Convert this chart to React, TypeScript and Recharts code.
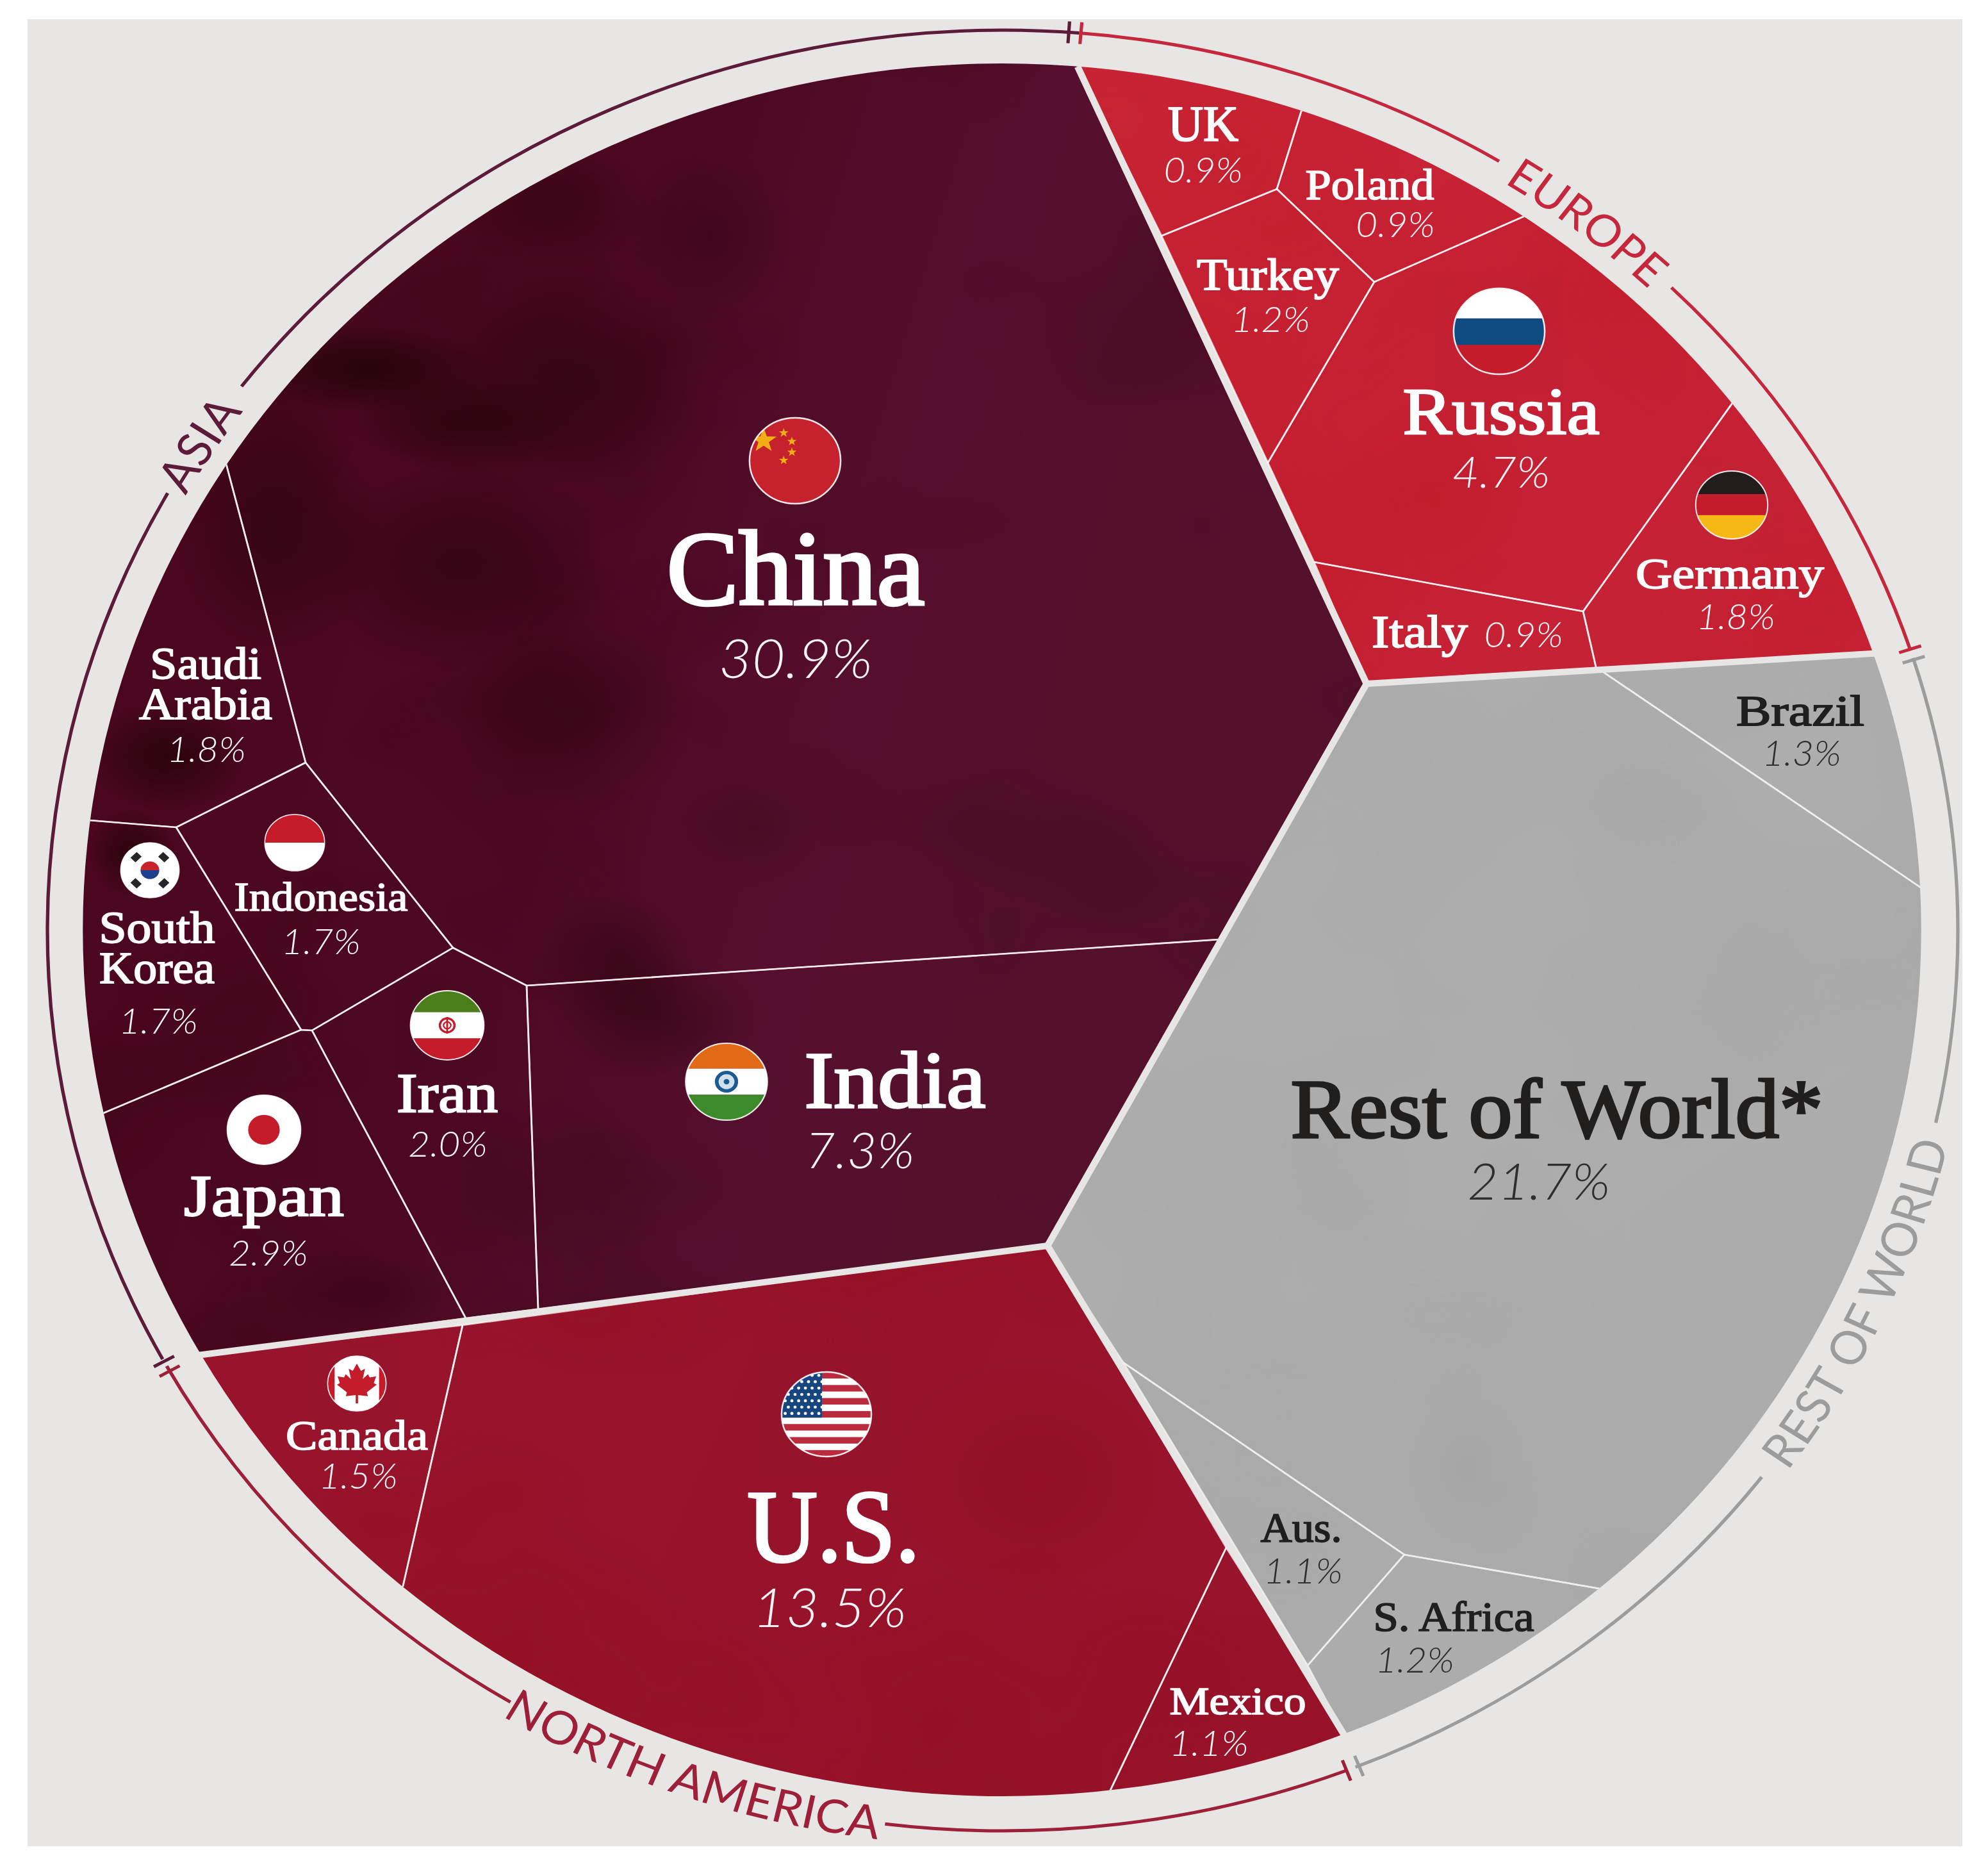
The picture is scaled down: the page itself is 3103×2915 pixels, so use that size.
import { Cell, Pie, PieChart, Scatter, ScatterChart, XAxis, YAxis } from 'recharts';

// the reference is stretched sideways, so the whole drawing is scaled by this
const STRETCH = 1.0612;
const MAP_W = 3103;
const MAP_H = 2915;
const W = MAP_W / STRETCH;
const H = MAP_H;
const DISC_X = 1564;
const DISC_Y = 1451;
const DISC_R = 1352;
const RING_CX = 1565 / STRETCH;
const RING_CY = 1452;
const RING_R = 1405;

type Pt = [number, number];

// cell outlines overshoot the rim and get clipped by the disc
const far = (p: Pt): Pt => [DISC_X + (p[0] - DISC_X) * 1.25, DISC_Y + (p[1] - DISC_Y) * 1.25];

const A: Pt = [1682, 104];
const E: Pt = [2133, 1067];
const F: Pt = [1635, 1944];

const cellNames = [
  'China', 'India', 'Japan', 'Iran', 'South Korea', 'Indonesia', 'Saudi Arabia',
  'U.S.', 'Canada', 'Mexico',
  'Russia', 'Germany', 'Turkey', 'UK', 'Poland', 'Italy',
  'Rest of World*', 'Brazil', 'S. Africa', 'Aus.',
];
const cellShares = [
  30.9, 7.3, 2.9, 2.0, 1.7, 1.7, 1.8,
  13.5, 1.5, 1.1,
  4.7, 1.8, 1.2, 0.9, 0.9, 0.9,
  21.7, 1.3, 1.2, 1.1,
];
const cellRegions = [
  'asia', 'asia', 'asia', 'asia', 'asia', 'asia', 'asia',
  'america', 'america', 'america',
  'europe', 'europe', 'europe', 'europe', 'europe', 'europe',
  'rest', 'rest', 'rest', 'rest',
];
const cellOutlines: Pt[][] = [
  [A, E, [1904, 1466], [822, 1538], [707, 1479], [477, 1190], [353, 724], far([353, 724]), far(A)],
  [[822, 1538], [1904, 1466], F, [840, 2043]],
  [[159, 1738], [470, 1607], [487, 1608], [727, 2057], [311, 2114], far([311, 2114]), far([159, 1738])],
  [[707, 1479], [822, 1538], [840, 2043], [727, 2057], [487, 1608]],
  [[139, 1280], [275, 1291], [470, 1607], [159, 1738], far([159, 1738]), far([139, 1280])],
  [[477, 1190], [707, 1479], [487, 1608], [470, 1607], [275, 1291]],
  [[353, 724], [477, 1190], [275, 1291], [139, 1280], far([139, 1280]), far([353, 724])],
  [[722, 2068], F, [1914, 2415], [1732, 2796], far([1732, 2796]), far([629, 2475]), [629, 2475]],
  [[311, 2114], [722, 2068], [629, 2475], far([629, 2475]), far([311, 2114])],
  [[1914, 2415], [2098, 2706], far([2098, 2706]), far([1732, 2796]), [1732, 2796]],
  [[2145, 440], [2378, 338], far([2378, 338]), far([2704, 629]), [2704, 629], [2471, 954], [2051, 877], [1979, 722]],
  [[2704, 629], far([2704, 629]), far([2930, 1020]), [2930, 1020], [2492, 1045], [2471, 954]],
  [[1813, 368], [1993, 295], [2145, 440], [1979, 722]],
  [A, far(A), far([2031, 174]), [2031, 174], [1993, 295], [1813, 368]],
  [[2031, 174], far([2031, 174]), far([2378, 338]), [2378, 338], [2145, 440], [1993, 295]],
  [[2051, 877], [2471, 954], [2492, 1045], E],
  [E, [2497, 1045], [2998, 1385], far([2998, 1385]), far([2496, 2479]), [2496, 2479], [2192, 2426], [1753, 2126], F],
  [[2497, 1045], [2930, 1020], far([2930, 1020]), far([2998, 1385]), [2998, 1385]],
  [[2192, 2426], [2496, 2479], far([2496, 2479]), far([2098, 2706]), [2098, 2706], [2041, 2599]],
  [[1753, 2126], [2192, 2426], [2041, 2599]],
];
const mainDividers: Pt[][] = [
  [A, E],
  [E, [2938, 1019]],
  [E, F],
  [F, [300, 2116]],
  [F, [2102, 2714]],
];

// [x, baseline y, font size] in map units for the name and the share
const nameLayout: [number, number, number][] = [
  [1242, 943, 166], [1397, 1728, 126], [412, 1897, 92], [698, 1735, 87], [245, 1471, 69], [501, 1421, 64], [321, 1059, 69],
  [1301, 2436, 160], [557, 2262, 66], [1932, 2675, 62],
  [2343, 677, 104], [2700, 918, 68], [1979, 452, 69], [1878, 219, 78], [2138, 311, 67], [2216, 1010, 72],
  [2430, 1775, 132], [2810, 1132, 68], [2269, 2545, 66], [2031, 2406, 65],
];
// measured width of each printed line of a name
const nameWidths: number[][] = [
  [403], [283], [250], [158], [181, 180], [271], [174, 208],
  [269], [222], [213],
  [307], [294], [222], [110], [201], [150],
  [831], [200], [251], [127],
];
const shareLayout: [number, number, number][] = [
  [1242, 1058, 84], [1342, 1823, 76], [419, 1975, 55], [699, 1805, 55], [247, 1613, 55], [501, 1489, 55], [322, 1189, 55],
  [1295, 2539, 84], [559, 2323, 55], [1887, 2740, 55],
  [2343, 761, 68], [2709, 982, 55], [1983, 518, 55], [1878, 285, 55], [2178, 370, 55], [2378, 1010, 55],
  [2402, 1872, 78], [2812, 1195, 55], [2208, 2610, 55], [2034, 2471, 55],
];
const flagCodes = ['cn', 'in', 'jp', 'ir', 'kr', 'id', 'ca', 'us', 'ru', 'de'];
const flagLayout: [number, number, number][] = [
  [1241, 719, 67], [1134, 1688, 60], [412, 1763, 54], [698, 1600, 54], [234, 1358, 43], [460, 1315, 44],
  [557, 2159, 43], [1290, 2207, 66], [2340, 517, 67], [2703, 788, 53],
];

// soft patches of the background texture: [x, y, rx, ry, strength, tone]
const smokePatches: [number, number, number, number, number, string][] = [
  [575, 575, 190, 70, 0.95, 'asia'],
  [720, 660, 170, 80, 0.7, 'asia'],
  [430, 830, 170, 200, 0.6, 'asia'],
  [720, 880, 240, 170, 0.55, 'asia'],
  [900, 590, 200, 170, 0.5, 'asia'],
  [860, 320, 150, 100, 0.45, 'asia'],
  [1110, 370, 130, 140, 0.3, 'asia'],
  [260, 1180, 130, 90, 0.85, 'asia'],
  [205, 1330, 70, 70, 0.85, 'asia'],
  [1030, 1590, 170, 100, 0.45, 'asia'],
  [970, 1500, 130, 110, 0.4, 'asia'],
  [900, 1120, 190, 150, 0.35, 'asia'],
  [1180, 1290, 140, 100, 0.25, 'asia'],
  [560, 2020, 160, 70, 0.3, 'asia'],
  [1000, 1850, 220, 100, 0.2, 'asia'],
  [1620, 2310, 230, 190, 0.5, 'america'],
  [2240, 780, 170, 170, 0.35, 'europe'],
  [2290, 2290, 130, 170, 0.2, 'rest'],
  [2590, 1260, 130, 90, 0.12, 'rest'],
  [2090, 1850, 120, 140, 0.1, 'rest'],
];

// ring arcs in degrees, clockwise from the Asia / Europe tick; null = gap for a label
const arcSpans = [26.67, 13.1, 27.4, 0.5, 29.9, 25, 30.9, 0.6, 28.1, 23.9, 30.0, 0.5, 57.4, 8.1, 57.33, 0];
const arcRegions = ['europe', null, 'europe', null, 'rest', null, 'rest', null, 'america', null, 'america', null, 'asia', null, 'asia', null];
const tickSpans = [0.2, 0.53, 0.2, 66.9, 0.2, 0.5, 0.2, 85.4, 0.2, 0.6, 0.2, 81.6, 0.2, 0.5, 0.2, 122.37];
const tickRegions = ['asia', null, 'europe', null, 'europe', null, 'rest', null, 'rest', null, 'america', null, 'america', null, 'asia', null];
const ARC_START = 4.6;
const TICK_START = 3.87;

const regionColor: Record<string, string> = {
  asia: '#5c1b38',
  europe: '#c5283c',
  america: '#9e1f38',
  rest: '#9c9c9c',
};
const regionFill: Record<string, string> = {
  asia: 'url(#fillAsia)',
  europe: 'url(#fillEurope)',
  america: 'url(#fillAmerica)',
  rest: 'url(#fillRest)',
};
const regionSmoke: Record<string, string> = {
  asia: 'url(#smokeAsia)',
  europe: 'url(#smokeEurope)',
  america: 'url(#smokeAmerica)',
  rest: 'url(#smokeRest)',
};

const regionLabels = [
  { id: 'europe', text: 'EUROPE', at: 37.9, up: true, size: 69 },
  { id: 'rest', text: 'REST OF WORLD', at: 114.8, up: false, size: 72 },
  { id: 'america', text: 'NORTH AMERICA', at: 199.2, up: false, size: 72 },
  { id: 'asia', text: 'ASIA', at: 302.7, up: true, size: 72 },
];

const SERIF = '"Liberation Serif", serif';
const SANS = 'Lato, "Open Sans", sans-serif';

const noPoint = () => <g />;

const toPoints = (outline: Pt[]) => outline.map(([x, y]) => ({ x, y }));

const polyPath = (points: { x: number; y: number }[]) => points.map((p) => `${p.x},${p.y}`).join(' ');

const CellFill = (region: string) => (props: any) => (
  <g clipPath="url(#disc)">
    <polygon points={polyPath(props.points)} fill={regionFill[region]} filter={regionSmoke[region]} />
  </g>
);

const CellEdge = (region: string) => (props: any) => (
  <g clipPath="url(#disc)">
    <polygon
      points={polyPath(props.points)}
      fill="none"
      stroke={region === 'rest' ? '#eeeeee' : '#ffffff'}
      strokeOpacity={region === 'rest' ? 0.9 : 0.72}
      strokeWidth={2.6}
    />
  </g>
);

const SmokePatch = (props: any) => {
  const { cx, cy, payload } = props;
  return (
    <ellipse
      cx={cx}
      cy={cy}
      rx={payload.rx / STRETCH}
      ry={payload.ry}
      fill={`url(#patch-${payload.tone})`}
      opacity={payload.strength}
      clipPath="url(#disc)"
    />
  );
};

const starPoints = (cx: number, cy: number, r: number) => {
  const pts: string[] = [];
  for (let i = 0; i < 10; i++) {
    const a = (Math.PI / 5) * i - Math.PI / 2;
    const d = i % 2 === 0 ? r : r * 0.4;
    pts.push(`${cx + d * Math.cos(a)},${cy + d * Math.sin(a)}`);
  }
  return pts.join(' ');
};

const RED = '#c41a2c';

const flagBody = (code: string) => {
  switch (code) {
    case 'cn':
      return (
        <>
          <rect x={-1} y={-1} width={2} height={2} fill="#c6202f" />
          <polygon points={starPoints(-0.69, -0.47, 0.3)} fill="#f2ae12" />
          <polygon points={starPoints(-0.25, -0.65, 0.11)} fill="#f2ae12" />
          <polygon points={starPoints(-0.07, -0.45, 0.11)} fill="#f2ae12" />
          <polygon points={starPoints(-0.07, -0.2, 0.11)} fill="#f2ae12" />
          <polygon points={starPoints(-0.25, -0.01, 0.11)} fill="#f2ae12" />
        </>
      );
    case 'ru':
      return (
        <>
          <rect x={-1} y={-1} width={2} height={0.7} fill="#ffffff" />
          <rect x={-1} y={-0.3} width={2} height={0.62} fill="#0f4c81" />
          <rect x={-1} y={0.32} width={2} height={0.7} fill={RED} />
        </>
      );
    case 'de':
      return (
        <>
          <rect x={-1} y={-1} width={2} height={0.68} fill="#211c1b" />
          <rect x={-1} y={-0.32} width={2} height={0.62} fill={RED} />
          <rect x={-1} y={0.3} width={2} height={0.72} fill="#f6b816" />
        </>
      );
    case 'id':
      return (
        <>
          <rect x={-1} y={-1} width={2} height={1} fill={RED} />
          <rect x={-1} y={0} width={2} height={1} fill="#ffffff" />
        </>
      );
    case 'jp':
      return (
        <>
          <rect x={-1} y={-1} width={2} height={2} fill="#ffffff" />
          <circle r={0.43} fill={RED} />
        </>
      );
    case 'kr':
      return (
        <>
          <rect x={-1} y={-1} width={2} height={2} fill="#ffffff" />
          <path d="M-0.32,0 A0.32,0.32 0 0 1 0.32,0 Z" fill="#c8202f" />
          <path d="M-0.32,0 A0.32,0.32 0 0 0 0.32,0 Z" fill="#1c3f8f" />
          {[45, 135, 225, 315].map((a) => (
            <rect key={a} x={0.55} y={-0.15} width={0.24} height={0.3} fill="#26262a" transform={`rotate(${a})`} />
          ))}
        </>
      );
    case 'ir':
      return (
        <>
          <rect x={-1} y={-1} width={2} height={0.62} fill="#4c7f1c" />
          <rect x={-1} y={-0.38} width={2} height={0.76} fill="#ffffff" />
          <rect x={-1} y={0.38} width={2} height={0.62} fill={RED} />
          <circle r={0.2} fill="none" stroke={RED} strokeWidth={0.06} />
          <circle r={0.1} fill="none" stroke={RED} strokeWidth={0.04} />
          <rect x={-0.025} y={-0.24} width={0.05} height={0.48} fill={RED} />
        </>
      );
    case 'in':
      return (
        <>
          <rect x={-1} y={-1} width={2} height={0.66} fill="#e26b12" />
          <rect x={-1} y={-0.34} width={2} height={0.68} fill="#ffffff" />
          <rect x={-1} y={0.34} width={2} height={0.66} fill="#3e8a2b" />
          <circle r={0.24} fill="#cfe0ee" stroke="#1c5a92" strokeWidth={0.09} />
          <circle r={0.07} fill="#1c5a92" />
        </>
      );
    case 'ca':
      return (
        <>
          <rect x={-1} y={-1} width={2} height={2} fill="#ffffff" />
          <rect x={-1} y={-1} width={0.24} height={2} fill={RED} />
          <rect x={0.76} y={-1} width={0.24} height={2} fill={RED} />
          <polygon
            fill={RED}
            points="0,-0.72 0.14,-0.46 0.28,-0.54 0.2,-0.16 0.38,-0.34 0.44,-0.22 0.66,-0.26 0.58,-0.02 0.68,0.04 0.34,0.32 0.38,0.46 0.04,0.42 0.04,0.72 -0.04,0.72 -0.04,0.42 -0.38,0.46 -0.34,0.32 -0.68,0.04 -0.58,-0.02 -0.66,-0.26 -0.44,-0.22 -0.38,-0.34 -0.2,-0.16 -0.28,-0.54 -0.14,-0.46"
          />
        </>
      );
    case 'us':
      return (
        <>
          <rect x={-1} y={-1} width={2} height={2} fill="#ffffff" />
          {Array.from({ length: 7 }, (_, i) => (
            <rect key={i} x={-1} y={-1 + (i * 4) / 13} width={2} height={2 / 13} fill="#bb2a3e" />
          ))}
          <rect x={-1} y={-1} width={0.9} height={1.08} fill="#17457f" />
          {Array.from({ length: 7 }, (_, r) =>
            Array.from({ length: 6 }, (_, c) => (
              <circle key={`${r}-${c}`} cx={-0.92 + c * 0.15 + (r % 2 ? 0.07 : 0)} cy={-0.92 + r * 0.15} r={0.035} fill="#ffffff" />
            )),
          )}
        </>
      );
    default:
      return null;
  }
};

const FlagMark = (props: any) => {
  const { cx, cy, payload } = props;
  return (
    <g transform={`translate(${cx},${cy}) scale(${payload.r})`} filter="url(#flagShadow)">
      <g clipPath="url(#flagClip)">{flagBody(payload.code)}</g>
      <circle r={1} fill="none" stroke="#ffffff" strokeWidth={0.035} strokeOpacity={0.9} />
    </g>
  );
};

const NameMark = (props: any) => {
  const { cx, cy, payload } = props;
  const fill = payload.region === 'rest' ? '#211e1e' : '#ffffff';
  const lines: string[] = payload.lines;
  return (
    <g>
      {lines.map((line, i) => (
        <text
          key={line}
          x={cx}
          y={cy + i * payload.size * 0.92}
          textAnchor="middle"
          fontFamily={SERIF}
          fontSize={payload.size}
          textLength={payload.widths[i] / STRETCH}
          lengthAdjust="spacingAndGlyphs"
          fill={fill}
          stroke={fill}
          strokeWidth={payload.size * 0.026}
        >
          {line}
        </text>
      ))}
    </g>
  );
};

const ShareMark = (props: any) => {
  const { cx, cy, payload } = props;
  return (
    <text
      x={cx}
      y={cy}
      textAnchor="middle"
      fontFamily={SANS}
      fontStyle="italic"
      fontWeight={300}
      fontSize={payload.size}
      fill={payload.region === 'rest' ? '#2f2e2e' : '#f8f3f4'}
    >
      {payload.text}
    </text>
  );
};

const nameLines: Record<string, string[]> = {
  'South Korea': ['South', 'Korea'],
  'Saudi Arabia': ['Saudi', 'Arabia'],
};

const nameRows = cellNames.map((name, i) => ({
  x: nameLayout[i][0],
  y: nameLayout[i][1],
  size: nameLayout[i][2],
  lines: nameLines[name] ?? [name],
  widths: nameWidths[i],
  region: cellRegions[i],
}));
const shareRows = cellShares.map((share, i) => ({
  x: shareLayout[i][0],
  y: shareLayout[i][1],
  size: shareLayout[i][2],
  text: `${share.toFixed(1)}%`,
  region: cellRegions[i],
}));
const flagRows = flagCodes.map((code, i) => ({ x: flagLayout[i][0], y: flagLayout[i][1], r: flagLayout[i][2], code }));
const patchRows = smokePatches.map(([x, y, rx, ry, strength, tone]) => ({ x, y, rx, ry, strength, tone }));

const arcData = arcSpans.map((value, i) => ({ value, region: arcRegions[i] }));
const tickData = tickSpans.map((value, i) => ({ value, region: tickRegions[i] }));

const ringPoint = (deg: number, r: number) => {
  const a = (deg * Math.PI) / 180;
  return [RING_CX + r * Math.sin(a), RING_CY - r * Math.cos(a)];
};

const labelArc = (at: number, up: boolean) => {
  const r = up ? RING_R - 25 : RING_R + 25;
  const from = ringPoint(up ? at - 25 : at + 25, r);
  const to = ringPoint(up ? at + 25 : at - 25, r);
  return `M${from[0]},${from[1]} A${r},${r} 0 0 ${up ? 1 : 0} ${to[0]},${to[1]}`;
};

const patchGradient = (id: string, color: string) => (
  <radialGradient id={id}>
    <stop offset="0" stopColor={color} stopOpacity={0.85} />
    <stop offset="0.45" stopColor={color} stopOpacity={0.5} />
    <stop offset="1" stopColor={color} stopOpacity={0} />
  </radialGradient>
);

const smokeFilter = (id: string, freq: string, seed: number, tint: string, alpha: string) => (
  <filter id={id} x="0" y="0" width="1" height="1" colorInterpolationFilters="sRGB">
    <feTurbulence type="fractalNoise" baseFrequency={freq} numOctaves={3} seed={seed} result="n" />
    <feColorMatrix in="n" type="matrix" values={`0 0 0 0 ${tint}  ${alpha}`} result="shade" />
    <feComposite in="shade" in2="SourceAlpha" operator="in" result="clipped" />
    <feMerge>
      <feMergeNode in="SourceGraphic" />
      <feMergeNode in="clipped" />
    </feMerge>
  </filter>
);

const Defs = () => (
  <svg style={{ position: 'absolute', width: 0, height: 0 }}>
    <defs>
      <clipPath id="disc">
        <circle cx={DISC_X / STRETCH} cy={DISC_Y} r={DISC_R} />
      </clipPath>
      <clipPath id="flagClip">
        <circle r={1} />
      </clipPath>
      <linearGradient id="fillAsia" gradientUnits="userSpaceOnUse" x1={250} y1={900} x2={1500} y2={1250}>
        <stop offset="0" stopColor="#4c0720" />
        <stop offset="0.45" stopColor="#4c0822" />
        <stop offset="0.8" stopColor="#560f2e" />
        <stop offset="1" stopColor="#55102c" />
      </linearGradient>
      <linearGradient id="fillEurope" gradientUnits="userSpaceOnUse" x1={1700} y1={150} x2={2400} y2={1000}>
        <stop offset="0" stopColor="#ca2639" />
        <stop offset="0.6" stopColor="#c51f32" />
        <stop offset="1" stopColor="#c62236" />
      </linearGradient>
      <linearGradient id="fillAmerica" gradientUnits="userSpaceOnUse" x1={400} y1={2100} x2={1900} y2={2700}>
        <stop offset="0" stopColor="#98142d" />
        <stop offset="0.55" stopColor="#97132c" />
        <stop offset="1" stopColor="#99142d" />
      </linearGradient>
      <linearGradient id="fillRest" gradientUnits="userSpaceOnUse" x1={1600} y1={1000} x2={2700} y2={2500}>
        <stop offset="0" stopColor="#aeaeae" />
        <stop offset="1" stopColor="#acacac" />
      </linearGradient>
      {smokeFilter('smokeAsia', '0.002 0.0026', 11, '0.2 0 0 0 0 0.02 0 0 0 0 0.07', '1.2 0 0 0 -0.62')}
      {smokeFilter('smokeEurope', '0.002', 4, '0.74 0 0 0 0 0.1 0 0 0 0 0.13', '0.8 0 0 0 -0.34')}
      {smokeFilter('smokeAmerica', '0.002', 23, '0.56 0 0 0 0 0.05 0 0 0 0 0.1', '1 0 0 0 -0.43')}
      {smokeFilter('smokeRest', '0.003', 8, '0.6 0 0 0 0 0.6 0 0 0 0 0.6', '0.45 0 0 0 -0.2')}
      {patchGradient('patch-asia', '#1e0207')}
      {patchGradient('patch-america', '#8c0d14')}
      {patchGradient('patch-europe', '#bb1820')}
      {patchGradient('patch-rest', '#808080')}
      <filter id="flagShadow" x="-0.2" y="-0.2" width="1.4" height="1.4">
        <feDropShadow dx={0} dy={0} stdDeviation={4} floodColor="#000000" floodOpacity={0.3} />
      </filter>
    </defs>
  </svg>
);

export default function App() {
  return (
    <div style={{ position: 'absolute', left: 0, top: 0, width: MAP_W, height: MAP_H, overflow: 'hidden', background: '#ffffff' }}>
      <div style={{ position: 'absolute', left: 43, top: 30, width: 3020, height: 2851, background: '#e7e6e4' }} />
      <Defs />
      <div
        style={{
          position: 'absolute',
          left: 0,
          top: 0,
          width: W,
          height: H,
          transform: `scale(${STRETCH}, 1)`,
          transformOrigin: '0 0',
        }}
      >
        <div style={{ position: 'absolute', left: 0, top: 0 }}>
          <ScatterChart width={W} height={H} margin={{ top: 0, right: 0, bottom: 0, left: 0 }}>
            <XAxis type="number" dataKey="x" domain={[0, MAP_W]} hide allowDataOverflow />
            <YAxis type="number" dataKey="y" domain={[0, MAP_H]} reversed hide allowDataOverflow />
            {cellNames.map((name, i) => (
              <Scatter
                key={name}
                name={name}
                data={toPoints(cellOutlines[i])}
                shape={noPoint}
                line={CellFill(cellRegions[i])}
                isAnimationActive={false}
              />
            ))}
            <Scatter data={patchRows} shape={SmokePatch} isAnimationActive={false} />
            {cellNames.map((name, i) => (
              <Scatter
                key={`edge-${name}`}
                data={toPoints(cellOutlines[i])}
                shape={noPoint}
                line={CellEdge(cellRegions[i])}
                isAnimationActive={false}
              />
            ))}
            {mainDividers.map((segment, i) => (
              <Scatter
                key={`divider-${i}`}
                data={toPoints(segment)}
                shape={noPoint}
                line={{ stroke: '#e7e6e4', strokeWidth: 10 }}
                isAnimationActive={false}
              />
            ))}
            <Scatter data={flagRows} shape={FlagMark} isAnimationActive={false} />
            <Scatter data={nameRows} shape={NameMark} isAnimationActive={false} />
            <Scatter data={shareRows} shape={ShareMark} isAnimationActive={false} />
          </ScatterChart>
        </div>
        <div style={{ position: 'absolute', left: 0, top: 0 }}>
          <PieChart width={W} height={H} margin={{ top: 0, right: 0, bottom: 0, left: 0 }}>
            <Pie
              data={arcData}
              dataKey="value"
              cx={RING_CX}
              cy={RING_CY}
              innerRadius={RING_R - 2.5}
              outerRadius={RING_R + 2.5}
              startAngle={90 - ARC_START}
              endAngle={90 - ARC_START - 360}
              stroke="none"
              isAnimationActive={false}
            >
              {arcData.map((d, i) => (
                <Cell key={i} fill={d.region ? regionColor[d.region] : 'none'} />
              ))}
            </Pie>
            <Pie
              data={tickData}
              dataKey="value"
              cx={RING_CX}
              cy={RING_CY}
              innerRadius={RING_R - 17}
              outerRadius={RING_R + 17}
              startAngle={90 - TICK_START}
              endAngle={90 - TICK_START - 360}
              stroke="none"
              isAnimationActive={false}
            >
              {tickData.map((d, i) => (
                <Cell key={i} fill={d.region ? regionColor[d.region] : 'none'} />
              ))}
            </Pie>
            <defs>
              {regionLabels.map((l) => (
                <path key={l.id} id={`arc-${l.id}`} d={labelArc(l.at, l.up)} />
              ))}
            </defs>
            {regionLabels.map((l) => (
              <text key={l.id} fontFamily={SANS} fontSize={l.size} fill={regionColor[l.id]} textAnchor="middle">
                <textPath href={`#arc-${l.id}`} startOffset="50%">
                  {l.text}
                </textPath>
              </text>
            ))}
          </PieChart>
        </div>
      </div>
    </div>
  );
}
